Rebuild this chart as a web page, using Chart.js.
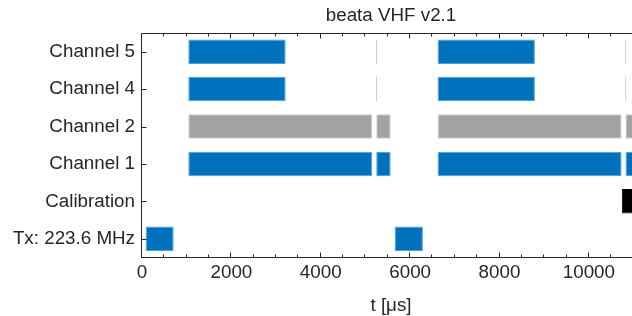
<!DOCTYPE html>
<html>
<head>
<meta charset="utf-8">
<script src="https://cdn.jsdelivr.net/npm/chart.js@4"></script>
<style>
  html, body { margin: 0; padding: 0; background: #fff; overflow: hidden; width: 632px; height: 316px; }
  #wrap { width: 660px; height: 316px; }
</style>
</head>
<body>
<div id="wrap"><canvas id="c" width="660" height="316"></canvas></div>
<script>
// ---- data (time in microseconds) ----
const categories = ['Channel 5', 'Channel 4', 'Channel 2', 'Channel 1', 'Calibration', 'Tx: 223.6 MHz'];
const ch5Segments = [[1036, 3215], [6615, 8792]];
const ch5Marks    = [[5236, 5256], [10815, 10835]];
const ch4Segments = [[1036, 3215], [6615, 8792]];
const ch4Marks    = [[5236, 5256], [10815, 10835]];
const ch2Segments = [[1036, 5152], [5242, 5564], [6615, 10732], [10821, 11144]];
const ch1Segments = [[1036, 5152], [5242, 5564], [6615, 10732], [10821, 11144]];
const calSegments = [[10738, 11144]];
const txSegments  = [[81, 709], [5653, 6286]];
const xTickValues = [0, 2000, 4000, 6000, 8000, 10000];
const xMin = 0, xMax = 11144;
const titleText = 'beata VHF v2.1';
const xTitle = 't [\u03bcs]';

const BLUE = '#0072BD', BLUE_EDGE = '#4E9FD6';
const GRAY = '#A2A2A2', GRAY_EDGE = '#CDCDCD';
const MARK = '#A9D2EE';
const INK = '#262626';
const FONT = '"Liberation Sans", Arial, Helvetica, sans-serif';
const FS = 18.8;

const rows = [
  { segs: ch5Segments, bg: BLUE, edge: BLUE_EDGE },
  { segs: ch5Marks,    bg: MARK, edge: MARK, thin: true },
  { segs: ch4Segments, bg: BLUE, edge: BLUE_EDGE },
  { segs: ch4Marks,    bg: MARK, edge: MARK, thin: true },
  { segs: ch2Segments, bg: GRAY, edge: GRAY_EDGE },
  { segs: ch1Segments, bg: BLUE, edge: BLUE_EDGE },
  { segs: calSegments, bg: '#000000', edge: '#000000' },
  { segs: txSegments,  bg: BLUE, edge: BLUE_EDGE }
];
const rowIndex = [0, 0, 1, 1, 2, 3, 4, 5];

const datasets = [];
rows.forEach((r, i) => {
  r.segs.forEach(seg => {
    const data = categories.map(() => null);
    data[rowIndex[i]] = seg;
    datasets.push({
      data,
      backgroundColor: r.bg,
      borderColor: r.edge,
      borderWidth: r.thin ? 0 : 1,
      borderSkipped: false,
      grouped: false,
      barPercentage: 0.655,
      categoryPercentage: 1.0
    });
  });
});

const axesPlugin = {
  id: 'matlabAxes',
  afterDraw(chart) {
    const { ctx, chartArea: a, scales } = chart;
    const x = scales.x, y = scales.y;
    ctx.save();
    ctx.strokeStyle = INK;
    ctx.lineWidth = 1;
    const L = Math.round(a.left) - 0.5, R = Math.round(a.right) - 0.5;
    const T = Math.round(a.top) + 0.5, B = Math.round(a.bottom) - 0.5;
    ctx.beginPath();
    ctx.moveTo(L, T); ctx.lineTo(R, T); ctx.lineTo(R, B); ctx.lineTo(L, B); ctx.closePath();
    ctx.stroke();
    ctx.beginPath();
    for (let v = 0; v <= xMax; v += 500) {
      const px = Math.round(x.getPixelForValue(v)) - 0.5;
      const len = (v % 2000 === 0) ? 5 : 3;
      ctx.moveTo(px, B); ctx.lineTo(px, B - len);
      ctx.moveTo(px, T); ctx.lineTo(px, T + len);
    }
    categories.forEach((c, i) => {
      const py = Math.round(y.getPixelForValue(i)) + 0.5;
      ctx.moveTo(L, py); ctx.lineTo(L + 5, py);
    });
    ctx.stroke();
    ctx.restore();
  }
};

new Chart(document.getElementById('c'), {
  type: 'bar',
  data: { labels: categories, datasets },
  options: {
    indexAxis: 'y',
    responsive: false,
    animation: false,
    layout: { padding: { left: 0, right: 20, top: 0, bottom: 0 } },
    plugins: {
      legend: { display: false },
      tooltip: { enabled: false },
      title: {
        display: true,
        text: titleText,
        fullSize: false,
        color: INK,
        font: { family: FONT, size: FS, weight: 'normal' },
        padding: { top: 5, bottom: 5.4 }
      }
    },
    scales: {
      x: {
        type: 'linear',
        min: xMin,
        max: xMax,
        afterBuildTicks: s => { s.ticks = xTickValues.map(v => ({ value: v })); },
        afterFit: s => { s.height = 58.5; },
        grid: { display: false, drawTicks: false, tickLength: 0 },
        border: { display: false },
        ticks: {
          color: INK,
          font: { family: FONT, size: FS },
          padding: 4,
          maxRotation: 0,
          autoSkip: false,
          callback: v => String(v)
        },
        title: {
          display: true,
          text: xTitle,
          color: INK,
          font: { family: FONT, size: FS, lineHeight: 1.0 },
          padding: { top: 0, bottom: 1 }
        }
      },
      y: {
        type: 'category',
        offset: true,
        afterFit: s => { s.width = 142; },
        grid: { display: false, drawTicks: false, tickLength: 0 },
        border: { display: false },
        ticks: {
          color: INK,
          font: { family: FONT, size: FS },
          padding: 7
        }
      }
    }
  },
  plugins: [axesPlugin]
});
</script>
</body>
</html>
